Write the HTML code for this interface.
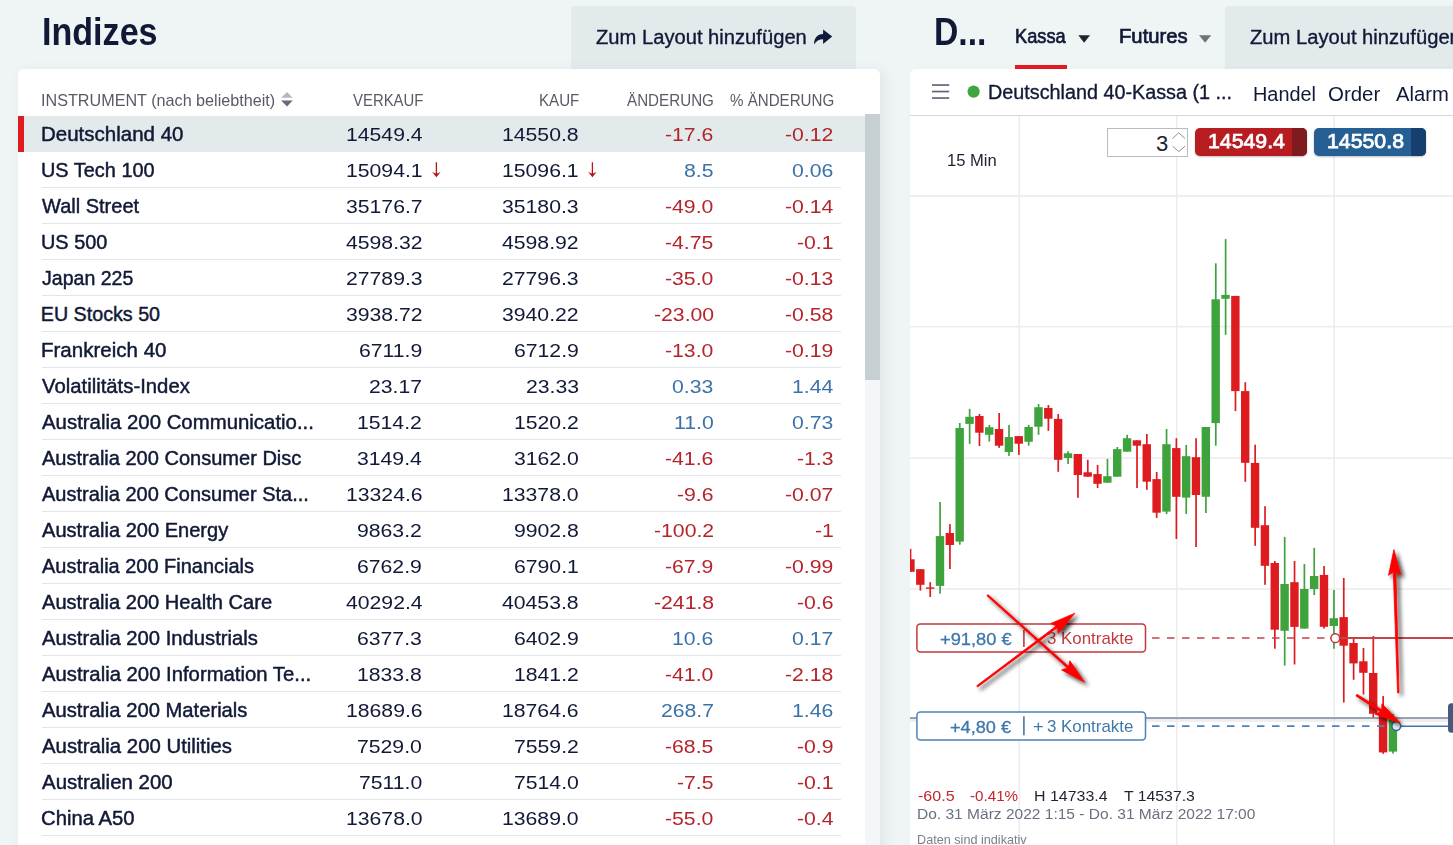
<!DOCTYPE html>
<html lang="de">
<head>
<meta charset="utf-8">
<title>Indizes</title>
<style>
html,body{margin:0;padding:0;width:1453px;height:845px;overflow:hidden;}
body{background:#eff4f5;font-family:"Liberation Sans",sans-serif;}
#root{position:absolute;left:0;top:0;width:1453px;height:845px;overflow:hidden;background:#eff4f5;}
.t{position:absolute;white-space:nowrap;line-height:1;transform-origin:0 0;}
.abs{position:absolute;}
.panel{position:absolute;background:#fff;box-shadow:0 0 14px 2px rgba(200,214,220,0.55);}
#lp{left:18px;top:69px;width:862px;height:790px;border-radius:6px 6px 0 0;box-shadow:4px 3px 12px 0 rgba(200,214,220,0.45);}
#rp{left:910px;top:69px;width:560px;height:790px;border-radius:6px 0 0 0;box-shadow:8px 4px 10px rgba(200,214,220,0.3);}
.btn{position:absolute;background:#e2eaeb;border-radius:4px 4px 0 0;}
.rl{position:absolute;left:42px;width:799px;height:1px;background:#dfe7e8;}
</style>
</head>
<body>
<div id="root">
<!-- top buttons -->
<div class="btn" style="left:571px;top:6px;width:285px;height:64px;"></div>
<div class="btn" style="left:1225px;top:6px;width:240px;height:64px;"></div>

<!-- panels -->
<div class="panel" id="lp"></div>
<div class="panel" id="rp"></div>

<!-- Kassa underline -->
<div class="abs" style="left:1015px;top:65px;width:52px;height:4px;background:#e01b22;"></div>

<!-- selected row -->
<div class="abs" style="left:18px;top:116px;width:847px;height:36px;background:#e2eaeb;"></div>
<div class="abs" style="left:18px;top:116px;width:6px;height:36px;background:#e01b1f;"></div>
<!-- scrollbar -->
<div class="abs" style="left:865px;top:114px;width:15px;height:731px;background:#f4f7f7;"></div>
<div class="abs" style="left:865px;top:114px;width:15px;height:266px;background:#c6d0d2;"></div>

<div class="rl" style="top:187px"></div>
<div class="rl" style="top:223px"></div>
<div class="rl" style="top:259px"></div>
<div class="rl" style="top:295px"></div>
<div class="rl" style="top:331px"></div>
<div class="rl" style="top:367px"></div>
<div class="rl" style="top:403px"></div>
<div class="rl" style="top:439px"></div>
<div class="rl" style="top:475px"></div>
<div class="rl" style="top:511px"></div>
<div class="rl" style="top:547px"></div>
<div class="rl" style="top:583px"></div>
<div class="rl" style="top:619px"></div>
<div class="rl" style="top:655px"></div>
<div class="rl" style="top:691px"></div>
<div class="rl" style="top:727px"></div>
<div class="rl" style="top:763px"></div>
<div class="rl" style="top:799px"></div>
<div class="rl" style="top:835px"></div>

<!-- right panel header border -->
<div class="abs" style="left:910px;top:115px;width:543px;height:1px;background:#d3d9dd;"></div>

<!-- chart svg -->
<svg class="abs" style="left:0;top:0;" width="1453" height="845" viewBox="0 0 1453 845">
<defs>
<clipPath id="cc"><rect x="910" y="116" width="543" height="729"/></clipPath>
<filter id="sh" x="-20%" y="-20%" width="150%" height="150%">
<feGaussianBlur in="SourceAlpha" stdDeviation="1.6" result="b"/>
<feOffset in="b" dx="2.5" dy="2.5" result="o"/>
<feComponentTransfer in="o" result="o2"><feFuncA type="linear" slope="0.75"/></feComponentTransfer>
<feMerge><feMergeNode in="o2"/><feMergeNode in="SourceGraphic"/></feMerge>
</filter>
</defs>
<g clip-path="url(#cc)">
<!-- grid -->
<g fill="#ececee">
<rect x="1018.5" y="116" width="1.5" height="729"/>
<rect x="1176" y="116" width="1.5" height="729"/>
<rect x="1333.5" y="116" width="1.5" height="729"/>
<rect x="910" y="195.3" width="543" height="1.6"/>
<rect x="910" y="325.8" width="543" height="1.6"/>
<rect x="910" y="457.4" width="543" height="1.6"/>
<rect x="910" y="588.2" width="543" height="1.6"/>
<rect x="910" y="720.2" width="543" height="1.6"/>
</g>
<!-- current price line -->
<rect x="910" y="717" width="538" height="2.2" fill="#98a1b4"/>
<!-- candles -->
<rect x="909.70" y="548.9" width="1.7" height="22.9" fill="#de1b1f"/>
<rect x="906.25" y="559.3" width="8.4" height="12.5" fill="#de1b1f"/>
<rect x="919.55" y="569.2" width="1.7" height="21.4" fill="#de1b1f"/>
<rect x="916.10" y="569.2" width="8.4" height="15.6" fill="#de1b1f"/>
<rect x="929.39" y="582.2" width="1.7" height="14.8" fill="#de1b1f"/>
<rect x="925.94" y="587.4" width="8.4" height="1.4" fill="#de1b1f"/>
<rect x="939.24" y="502.0" width="1.7" height="91.7" fill="#3fa33d"/>
<rect x="935.79" y="536.1" width="8.4" height="49.8" fill="#3fa33d"/>
<rect x="949.08" y="524.1" width="1.7" height="44.9" fill="#de1b1f"/>
<rect x="945.63" y="533.0" width="8.4" height="12.0" fill="#de1b1f"/>
<rect x="958.93" y="423.0" width="1.7" height="121.7" fill="#3fa33d"/>
<rect x="955.48" y="428.0" width="8.4" height="113.6" fill="#3fa33d"/>
<rect x="968.78" y="408.8" width="1.7" height="35.1" fill="#3fa33d"/>
<rect x="965.33" y="416.8" width="8.4" height="7.1" fill="#3fa33d"/>
<rect x="978.62" y="414.0" width="1.7" height="32.0" fill="#de1b1f"/>
<rect x="975.17" y="416.0" width="8.4" height="16.7" fill="#de1b1f"/>
<rect x="988.47" y="424.9" width="1.7" height="16.7" fill="#3fa33d"/>
<rect x="985.02" y="427.2" width="8.4" height="7.6" fill="#3fa33d"/>
<rect x="998.31" y="413.0" width="1.7" height="34.8" fill="#de1b1f"/>
<rect x="994.86" y="429.0" width="8.4" height="16.7" fill="#de1b1f"/>
<rect x="1008.16" y="424.9" width="1.7" height="31.0" fill="#3fa33d"/>
<rect x="1004.71" y="437.1" width="8.4" height="14.9" fill="#3fa33d"/>
<rect x="1018.01" y="436.1" width="1.7" height="18.8" fill="#de1b1f"/>
<rect x="1014.56" y="436.1" width="8.4" height="7.6" fill="#de1b1f"/>
<rect x="1027.85" y="424.9" width="1.7" height="20.8" fill="#3fa33d"/>
<rect x="1024.40" y="427.0" width="8.4" height="14.8" fill="#3fa33d"/>
<rect x="1037.70" y="404.0" width="1.7" height="30.8" fill="#3fa33d"/>
<rect x="1034.25" y="407.2" width="8.4" height="19.5" fill="#3fa33d"/>
<rect x="1047.54" y="405.0" width="1.7" height="25.9" fill="#de1b1f"/>
<rect x="1044.09" y="408.0" width="8.4" height="10.7" fill="#de1b1f"/>
<rect x="1057.39" y="414.0" width="1.7" height="57.8" fill="#de1b1f"/>
<rect x="1053.94" y="418.9" width="8.4" height="40.9" fill="#de1b1f"/>
<rect x="1067.24" y="451.2" width="1.7" height="12.8" fill="#3fa33d"/>
<rect x="1063.79" y="453.3" width="8.4" height="4.7" fill="#3fa33d"/>
<rect x="1077.08" y="454.0" width="1.7" height="43.8" fill="#de1b1f"/>
<rect x="1073.63" y="454.0" width="8.4" height="21.0" fill="#de1b1f"/>
<rect x="1086.93" y="459.8" width="1.7" height="16.9" fill="#de1b1f"/>
<rect x="1083.48" y="472.3" width="8.4" height="4.4" fill="#de1b1f"/>
<rect x="1096.77" y="465.0" width="1.7" height="23.0" fill="#de1b1f"/>
<rect x="1093.32" y="474.1" width="8.4" height="9.7" fill="#de1b1f"/>
<rect x="1106.62" y="459.0" width="1.7" height="23.7" fill="#3fa33d"/>
<rect x="1103.17" y="476.2" width="8.4" height="6.5" fill="#3fa33d"/>
<rect x="1116.47" y="447.0" width="1.7" height="29.7" fill="#3fa33d"/>
<rect x="1113.02" y="449.1" width="8.4" height="27.6" fill="#3fa33d"/>
<rect x="1126.31" y="434.8" width="1.7" height="16.9" fill="#3fa33d"/>
<rect x="1122.86" y="438.2" width="8.4" height="13.5" fill="#3fa33d"/>
<rect x="1136.16" y="440.3" width="1.7" height="47.7" fill="#de1b1f"/>
<rect x="1132.71" y="440.3" width="8.4" height="5.4" fill="#de1b1f"/>
<rect x="1146.00" y="434.0" width="1.7" height="55.8" fill="#de1b1f"/>
<rect x="1142.55" y="444.2" width="8.4" height="37.5" fill="#de1b1f"/>
<rect x="1155.85" y="472.0" width="1.7" height="45.9" fill="#de1b1f"/>
<rect x="1152.40" y="479.1" width="8.4" height="33.6" fill="#de1b1f"/>
<rect x="1165.70" y="429.0" width="1.7" height="85.0" fill="#3fa33d"/>
<rect x="1162.25" y="444.2" width="8.4" height="67.4" fill="#3fa33d"/>
<rect x="1175.54" y="438.2" width="1.7" height="100.8" fill="#de1b1f"/>
<rect x="1172.09" y="448.1" width="8.4" height="48.7" fill="#de1b1f"/>
<rect x="1185.39" y="445.0" width="1.7" height="69.0" fill="#3fa33d"/>
<rect x="1181.94" y="456.2" width="8.4" height="41.4" fill="#3fa33d"/>
<rect x="1195.23" y="438.2" width="1.7" height="108.8" fill="#de1b1f"/>
<rect x="1191.78" y="457.2" width="8.4" height="37.8" fill="#de1b1f"/>
<rect x="1205.08" y="427.0" width="1.7" height="86.0" fill="#3fa33d"/>
<rect x="1201.63" y="427.0" width="8.4" height="69.8" fill="#3fa33d"/>
<rect x="1214.93" y="263.3" width="1.7" height="182.4" fill="#3fa33d"/>
<rect x="1211.48" y="299.3" width="8.4" height="123.8" fill="#3fa33d"/>
<rect x="1224.77" y="239.1" width="1.7" height="95.7" fill="#3fa33d"/>
<rect x="1221.32" y="294.9" width="8.4" height="3.9" fill="#3fa33d"/>
<rect x="1234.62" y="295.9" width="1.7" height="115.2" fill="#de1b1f"/>
<rect x="1231.17" y="295.9" width="8.4" height="95.2" fill="#de1b1f"/>
<rect x="1244.46" y="382.2" width="1.7" height="99.6" fill="#de1b1f"/>
<rect x="1241.01" y="391.1" width="8.4" height="71.7" fill="#de1b1f"/>
<rect x="1254.31" y="444.7" width="1.7" height="101.1" fill="#de1b1f"/>
<rect x="1250.86" y="462.9" width="8.4" height="64.9" fill="#de1b1f"/>
<rect x="1264.16" y="506.2" width="1.7" height="78.6" fill="#de1b1f"/>
<rect x="1260.71" y="525.2" width="8.4" height="40.6" fill="#de1b1f"/>
<rect x="1274.00" y="561.0" width="1.7" height="87.7" fill="#de1b1f"/>
<rect x="1270.55" y="563.0" width="8.4" height="66.7" fill="#de1b1f"/>
<rect x="1283.85" y="536.9" width="1.7" height="128.7" fill="#3fa33d"/>
<rect x="1280.40" y="584.0" width="8.4" height="46.8" fill="#3fa33d"/>
<rect x="1293.69" y="561.0" width="1.7" height="103.5" fill="#de1b1f"/>
<rect x="1290.24" y="582.2" width="8.4" height="44.7" fill="#de1b1f"/>
<rect x="1303.54" y="564.0" width="1.7" height="64.6" fill="#3fa33d"/>
<rect x="1300.09" y="589.0" width="8.4" height="39.6" fill="#3fa33d"/>
<rect x="1313.39" y="547.8" width="1.7" height="47.2" fill="#3fa33d"/>
<rect x="1309.94" y="576.0" width="8.4" height="13.0" fill="#3fa33d"/>
<rect x="1323.23" y="566.0" width="1.7" height="62.5" fill="#de1b1f"/>
<rect x="1319.78" y="574.9" width="8.4" height="51.9" fill="#de1b1f"/>
<rect x="1333.08" y="590.0" width="1.7" height="58.7" fill="#3fa33d"/>
<rect x="1329.63" y="618.2" width="8.4" height="7.8" fill="#3fa33d"/>
<rect x="1342.92" y="578.0" width="1.7" height="124.6" fill="#de1b1f"/>
<rect x="1339.47" y="617.1" width="8.4" height="28.6" fill="#de1b1f"/>
<rect x="1352.77" y="637.4" width="1.7" height="42.4" fill="#de1b1f"/>
<rect x="1349.32" y="643.0" width="8.4" height="20.4" fill="#de1b1f"/>
<rect x="1362.62" y="648.0" width="1.7" height="46.5" fill="#de1b1f"/>
<rect x="1359.17" y="661.3" width="8.4" height="11.5" fill="#de1b1f"/>
<rect x="1372.46" y="636.0" width="1.7" height="81.6" fill="#de1b1f"/>
<rect x="1369.01" y="673.0" width="8.4" height="40.8" fill="#de1b1f"/>
<rect x="1382.31" y="696.1" width="1.7" height="57.7" fill="#de1b1f"/>
<rect x="1378.86" y="714.0" width="8.4" height="38.4" fill="#de1b1f"/>
<rect x="1392.15" y="714.0" width="1.7" height="39.6" fill="#3fa33d"/>
<rect x="1388.70" y="719.5" width="8.4" height="32.1" fill="#3fa33d"/>
<!-- position lines -->
<line x1="1152" y1="638" x2="1331" y2="638" stroke="#c5444a" stroke-width="1.7" stroke-dasharray="7.5 7.5"/>
<line x1="1339.5" y1="638" x2="1453" y2="638" stroke="#c5444a" stroke-width="2"/>
<circle cx="1335.3" cy="638.2" r="4.4" fill="#fff" stroke="#b8383e" stroke-width="1.5"/>
<line x1="1152" y1="726.2" x2="1392" y2="726.2" stroke="#4a83b9" stroke-width="1.8" stroke-dasharray="7.5 7.5"/>
<line x1="1401" y1="726.2" x2="1449" y2="726.2" stroke="#3f78ab" stroke-width="1.6"/>
<!-- tag -->
<rect x="1448" y="703.2" width="12" height="29.6" rx="3.5" fill="#485a7c"/>
<!-- boxes -->
<rect x="916.9" y="623.9" width="228.6" height="28.2" rx="3.5" fill="#fff" stroke="#c4373d" stroke-width="1.5"/>
<rect x="1023.1" y="630" width="1.6" height="17" fill="#c4373d"/>
<rect x="916.9" y="711.9" width="228.6" height="28.2" rx="3.5" fill="#fff" stroke="#4a83b9" stroke-width="1.5"/>
<rect x="1023.1" y="716.3" width="1.6" height="19" fill="#3f78ab"/>
</g>
</svg>

<svg class="abs" style="left:0;top:0;" width="1453" height="845" viewBox="0 0 1453 845">
<!-- qty input -->
<rect x="1107.5" y="128.5" width="80" height="28" fill="#fff" stroke="#b7bcbf" stroke-width="1"/>
<g stroke="#8a8f94" stroke-width="1" fill="none">
<path d="M1172.5 138.5 L1178.8 132.8 L1185 138.5"/>
<path d="M1172.5 146.2 L1178.8 151.6 L1185 146.2"/>
</g>
</svg>
<!-- price buttons -->
<div class="abs" style="left:1195px;top:128px;width:112px;height:28px;border-radius:5px;background:#b71c21;overflow:hidden;box-shadow:0 1px 2px rgba(0,0,0,0.25);"><div class="abs" style="right:0;top:0;width:15.5px;height:28px;background:#7f1a1e;"></div></div>
<div class="abs" style="left:1314px;top:128px;width:112px;height:28px;border-radius:5px;background:#255f94;overflow:hidden;box-shadow:0 1px 2px rgba(0,0,0,0.25);"><div class="abs" style="right:0;top:0;width:15.5px;height:28px;background:#143f6e;"></div></div>

<span class="t" style="left:41.65px;top:11.75px;font-size:39px;color:#111936;font-weight:bold;transform:scaleX(0.8741);">Indizes</span>
<span class="t" style="left:595.70px;top:28.04px;font-size:19.6px;color:#111936;transform:scaleX(1.0295);-webkit-text-stroke:0.35px #111936;">Zum Layout hinzufügen</span>
<span class="t" style="left:41.03px;top:92.79px;font-size:16.6px;color:#585b66;transform:scaleX(0.9743);">INSTRUMENT (nach beliebtheit)</span>
<span class="t" style="left:353.00px;top:92.79px;font-size:16.6px;color:#585b66;transform:scaleX(0.8985);">VERKAUF</span>
<span class="t" style="left:538.89px;top:92.79px;font-size:16.6px;color:#585b66;transform:scaleX(0.9114);">KAUF</span>
<span class="t" style="left:627.10px;top:92.79px;font-size:16.6px;color:#585b66;transform:scaleX(0.9154);">ÄNDERUNG</span>
<span class="t" style="left:729.60px;top:92.79px;font-size:16.6px;color:#585b66;transform:scaleX(0.9117);">% ÄNDERUNG</span>
<span class="t" style="left:40.76px;top:125.25px;font-size:19.7px;color:#111936;transform:scaleX(1.0415);-webkit-text-stroke:0.45px #111936;">Deutschland 40</span>
<span class="t" style="left:345.67px;top:126.02px;font-size:18.8px;color:#111936;transform:scaleX(1.1288);">14549.4</span>
<span class="t" style="left:502.17px;top:126.02px;font-size:18.8px;color:#111936;transform:scaleX(1.1288);">14550.8</span>
<span class="t" style="left:665.38px;top:126.02px;font-size:18.8px;color:#b5242b;transform:scaleX(1.1288);">-17.6</span>
<span class="t" style="left:785.18px;top:126.02px;font-size:18.8px;color:#b5242b;transform:scaleX(1.1288);">-0.12</span>
<span class="t" style="left:40.79px;top:161.25px;font-size:19.7px;color:#111936;transform:scaleX(1.0110);-webkit-text-stroke:0.45px #111936;">US Tech 100</span>
<span class="t" style="left:345.67px;top:162.02px;font-size:18.8px;color:#111936;transform:scaleX(1.1288);">15094.1</span>
<span class="t" style="left:502.17px;top:162.02px;font-size:18.8px;color:#111936;transform:scaleX(1.1288);">15096.1</span>
<span class="t" style="left:684.23px;top:162.02px;font-size:18.8px;color:#3b72a8;transform:scaleX(1.1288);">8.5</span>
<span class="t" style="left:792.24px;top:162.02px;font-size:18.8px;color:#3b72a8;transform:scaleX(1.1288);">0.06</span>
<span class="t" style="left:41.80px;top:197.25px;font-size:19.7px;color:#111936;transform:scaleX(1.0159);-webkit-text-stroke:0.45px #111936;">Wall Street</span>
<span class="t" style="left:345.67px;top:198.02px;font-size:18.8px;color:#111936;transform:scaleX(1.1288);">35176.7</span>
<span class="t" style="left:502.17px;top:198.02px;font-size:18.8px;color:#111936;transform:scaleX(1.1288);">35180.3</span>
<span class="t" style="left:665.38px;top:198.02px;font-size:18.8px;color:#b5242b;transform:scaleX(1.1288);">-49.0</span>
<span class="t" style="left:785.18px;top:198.02px;font-size:18.8px;color:#b5242b;transform:scaleX(1.1288);">-0.14</span>
<span class="t" style="left:40.79px;top:233.25px;font-size:19.7px;color:#111936;transform:scaleX(1.0105);-webkit-text-stroke:0.45px #111936;">US 500</span>
<span class="t" style="left:345.67px;top:234.02px;font-size:18.8px;color:#111936;transform:scaleX(1.1288);">4598.32</span>
<span class="t" style="left:502.17px;top:234.02px;font-size:18.8px;color:#111936;transform:scaleX(1.1288);">4598.92</span>
<span class="t" style="left:665.38px;top:234.02px;font-size:18.8px;color:#b5242b;transform:scaleX(1.1288);">-4.75</span>
<span class="t" style="left:796.97px;top:234.02px;font-size:18.8px;color:#b5242b;transform:scaleX(1.1288);">-0.1</span>
<span class="t" style="left:41.80px;top:269.25px;font-size:19.7px;color:#111936;transform:scaleX(0.9934);-webkit-text-stroke:0.45px #111936;">Japan 225</span>
<span class="t" style="left:345.67px;top:270.02px;font-size:18.8px;color:#111936;transform:scaleX(1.1288);">27789.3</span>
<span class="t" style="left:502.17px;top:270.02px;font-size:18.8px;color:#111936;transform:scaleX(1.1288);">27796.3</span>
<span class="t" style="left:665.38px;top:270.02px;font-size:18.8px;color:#b5242b;transform:scaleX(1.1288);">-35.0</span>
<span class="t" style="left:785.18px;top:270.02px;font-size:18.8px;color:#b5242b;transform:scaleX(1.1288);">-0.13</span>
<span class="t" style="left:40.80px;top:305.25px;font-size:19.7px;color:#111936;-webkit-text-stroke:0.45px #111936;">EU Stocks 50</span>
<span class="t" style="left:345.67px;top:306.02px;font-size:18.8px;color:#111936;transform:scaleX(1.1288);">3938.72</span>
<span class="t" style="left:502.17px;top:306.02px;font-size:18.8px;color:#111936;transform:scaleX(1.1288);">3940.22</span>
<span class="t" style="left:653.59px;top:306.02px;font-size:18.8px;color:#b5242b;transform:scaleX(1.1288);">-23.00</span>
<span class="t" style="left:785.18px;top:306.02px;font-size:18.8px;color:#b5242b;transform:scaleX(1.1288);">-0.58</span>
<span class="t" style="left:40.76px;top:341.25px;font-size:19.7px;color:#111936;transform:scaleX(1.0426);-webkit-text-stroke:0.45px #111936;">Frankreich 40</span>
<span class="t" style="left:359.04px;top:342.02px;font-size:18.8px;color:#111936;transform:scaleX(1.1288);">6711.9</span>
<span class="t" style="left:513.96px;top:342.02px;font-size:18.8px;color:#111936;transform:scaleX(1.1288);">6712.9</span>
<span class="t" style="left:665.38px;top:342.02px;font-size:18.8px;color:#b5242b;transform:scaleX(1.1288);">-13.0</span>
<span class="t" style="left:785.18px;top:342.02px;font-size:18.8px;color:#b5242b;transform:scaleX(1.1288);">-0.19</span>
<span class="t" style="left:41.80px;top:377.25px;font-size:19.7px;color:#111936;transform:scaleX(1.0313);-webkit-text-stroke:0.45px #111936;">Volatilitäts-Index</span>
<span class="t" style="left:369.25px;top:378.02px;font-size:18.8px;color:#111936;transform:scaleX(1.1288);">23.17</span>
<span class="t" style="left:525.75px;top:378.02px;font-size:18.8px;color:#111936;transform:scaleX(1.1288);">23.33</span>
<span class="t" style="left:672.44px;top:378.02px;font-size:18.8px;color:#3b72a8;transform:scaleX(1.1288);">0.33</span>
<span class="t" style="left:792.24px;top:378.02px;font-size:18.8px;color:#3b72a8;transform:scaleX(1.1288);">1.44</span>
<span class="t" style="left:41.80px;top:413.25px;font-size:19.7px;color:#111936;transform:scaleX(1.0354);-webkit-text-stroke:0.45px #111936;">Australia 200 Communicatio...</span>
<span class="t" style="left:357.46px;top:414.02px;font-size:18.8px;color:#111936;transform:scaleX(1.1288);">1514.2</span>
<span class="t" style="left:513.96px;top:414.02px;font-size:18.8px;color:#111936;transform:scaleX(1.1288);">1520.2</span>
<span class="t" style="left:674.02px;top:414.02px;font-size:18.8px;color:#3b72a8;transform:scaleX(1.1288);">11.0</span>
<span class="t" style="left:792.24px;top:414.02px;font-size:18.8px;color:#3b72a8;transform:scaleX(1.1288);">0.73</span>
<span class="t" style="left:41.80px;top:449.25px;font-size:19.7px;color:#111936;transform:scaleX(1.0172);-webkit-text-stroke:0.45px #111936;">Australia 200 Consumer Disc</span>
<span class="t" style="left:357.46px;top:450.02px;font-size:18.8px;color:#111936;transform:scaleX(1.1288);">3149.4</span>
<span class="t" style="left:513.96px;top:450.02px;font-size:18.8px;color:#111936;transform:scaleX(1.1288);">3162.0</span>
<span class="t" style="left:665.38px;top:450.02px;font-size:18.8px;color:#b5242b;transform:scaleX(1.1288);">-41.6</span>
<span class="t" style="left:796.97px;top:450.02px;font-size:18.8px;color:#b5242b;transform:scaleX(1.1288);">-1.3</span>
<span class="t" style="left:41.80px;top:485.25px;font-size:19.7px;color:#111936;transform:scaleX(1.0162);-webkit-text-stroke:0.45px #111936;">Australia 200 Consumer Sta...</span>
<span class="t" style="left:345.67px;top:486.02px;font-size:18.8px;color:#111936;transform:scaleX(1.1288);">13324.6</span>
<span class="t" style="left:502.17px;top:486.02px;font-size:18.8px;color:#111936;transform:scaleX(1.1288);">13378.0</span>
<span class="t" style="left:677.17px;top:486.02px;font-size:18.8px;color:#b5242b;transform:scaleX(1.1288);">-9.6</span>
<span class="t" style="left:785.18px;top:486.02px;font-size:18.8px;color:#b5242b;transform:scaleX(1.1288);">-0.07</span>
<span class="t" style="left:41.80px;top:521.25px;font-size:19.7px;color:#111936;transform:scaleX(1.0190);-webkit-text-stroke:0.45px #111936;">Australia 200 Energy</span>
<span class="t" style="left:357.46px;top:522.02px;font-size:18.8px;color:#111936;transform:scaleX(1.1288);">9863.2</span>
<span class="t" style="left:513.96px;top:522.02px;font-size:18.8px;color:#111936;transform:scaleX(1.1288);">9902.8</span>
<span class="t" style="left:653.59px;top:522.02px;font-size:18.8px;color:#b5242b;transform:scaleX(1.1288);">-100.2</span>
<span class="t" style="left:814.65px;top:522.02px;font-size:18.8px;color:#b5242b;transform:scaleX(1.1288);">-1</span>
<span class="t" style="left:41.80px;top:557.25px;font-size:19.7px;color:#111936;transform:scaleX(1.0140);-webkit-text-stroke:0.45px #111936;">Australia 200 Financials</span>
<span class="t" style="left:357.46px;top:558.02px;font-size:18.8px;color:#111936;transform:scaleX(1.1288);">6762.9</span>
<span class="t" style="left:513.96px;top:558.02px;font-size:18.8px;color:#111936;transform:scaleX(1.1288);">6790.1</span>
<span class="t" style="left:665.38px;top:558.02px;font-size:18.8px;color:#b5242b;transform:scaleX(1.1288);">-67.9</span>
<span class="t" style="left:785.18px;top:558.02px;font-size:18.8px;color:#b5242b;transform:scaleX(1.1288);">-0.99</span>
<span class="t" style="left:41.80px;top:593.25px;font-size:19.7px;color:#111936;transform:scaleX(1.0205);-webkit-text-stroke:0.45px #111936;">Australia 200 Health Care</span>
<span class="t" style="left:345.67px;top:594.02px;font-size:18.8px;color:#111936;transform:scaleX(1.1288);">40292.4</span>
<span class="t" style="left:502.17px;top:594.02px;font-size:18.8px;color:#111936;transform:scaleX(1.1288);">40453.8</span>
<span class="t" style="left:653.59px;top:594.02px;font-size:18.8px;color:#b5242b;transform:scaleX(1.1288);">-241.8</span>
<span class="t" style="left:796.97px;top:594.02px;font-size:18.8px;color:#b5242b;transform:scaleX(1.1288);">-0.6</span>
<span class="t" style="left:41.80px;top:629.25px;font-size:19.7px;color:#111936;transform:scaleX(1.0273);-webkit-text-stroke:0.45px #111936;">Australia 200 Industrials</span>
<span class="t" style="left:357.46px;top:630.02px;font-size:18.8px;color:#111936;transform:scaleX(1.1288);">6377.3</span>
<span class="t" style="left:513.96px;top:630.02px;font-size:18.8px;color:#111936;transform:scaleX(1.1288);">6402.9</span>
<span class="t" style="left:672.44px;top:630.02px;font-size:18.8px;color:#3b72a8;transform:scaleX(1.1288);">10.6</span>
<span class="t" style="left:792.24px;top:630.02px;font-size:18.8px;color:#3b72a8;transform:scaleX(1.1288);">0.17</span>
<span class="t" style="left:41.80px;top:665.25px;font-size:19.7px;color:#111936;transform:scaleX(1.0305);-webkit-text-stroke:0.45px #111936;">Australia 200 Information Te...</span>
<span class="t" style="left:357.46px;top:666.02px;font-size:18.8px;color:#111936;transform:scaleX(1.1288);">1833.8</span>
<span class="t" style="left:513.96px;top:666.02px;font-size:18.8px;color:#111936;transform:scaleX(1.1288);">1841.2</span>
<span class="t" style="left:665.38px;top:666.02px;font-size:18.8px;color:#b5242b;transform:scaleX(1.1288);">-41.0</span>
<span class="t" style="left:785.18px;top:666.02px;font-size:18.8px;color:#b5242b;transform:scaleX(1.1288);">-2.18</span>
<span class="t" style="left:41.80px;top:701.25px;font-size:19.7px;color:#111936;transform:scaleX(1.0259);-webkit-text-stroke:0.45px #111936;">Australia 200 Materials</span>
<span class="t" style="left:345.67px;top:702.02px;font-size:18.8px;color:#111936;transform:scaleX(1.1288);">18689.6</span>
<span class="t" style="left:502.17px;top:702.02px;font-size:18.8px;color:#111936;transform:scaleX(1.1288);">18764.6</span>
<span class="t" style="left:660.65px;top:702.02px;font-size:18.8px;color:#3b72a8;transform:scaleX(1.1288);">268.7</span>
<span class="t" style="left:792.24px;top:702.02px;font-size:18.8px;color:#3b72a8;transform:scaleX(1.1288);">1.46</span>
<span class="t" style="left:41.80px;top:737.25px;font-size:19.7px;color:#111936;transform:scaleX(1.0338);-webkit-text-stroke:0.45px #111936;">Australia 200 Utilities</span>
<span class="t" style="left:357.46px;top:738.02px;font-size:18.8px;color:#111936;transform:scaleX(1.1288);">7529.0</span>
<span class="t" style="left:513.96px;top:738.02px;font-size:18.8px;color:#111936;transform:scaleX(1.1288);">7559.2</span>
<span class="t" style="left:665.38px;top:738.02px;font-size:18.8px;color:#b5242b;transform:scaleX(1.1288);">-68.5</span>
<span class="t" style="left:796.97px;top:738.02px;font-size:18.8px;color:#b5242b;transform:scaleX(1.1288);">-0.9</span>
<span class="t" style="left:41.80px;top:773.25px;font-size:19.7px;color:#111936;transform:scaleX(1.0380);-webkit-text-stroke:0.45px #111936;">Australien 200</span>
<span class="t" style="left:359.04px;top:774.02px;font-size:18.8px;color:#111936;transform:scaleX(1.1288);">7511.0</span>
<span class="t" style="left:513.96px;top:774.02px;font-size:18.8px;color:#111936;transform:scaleX(1.1288);">7514.0</span>
<span class="t" style="left:677.17px;top:774.02px;font-size:18.8px;color:#b5242b;transform:scaleX(1.1288);">-7.5</span>
<span class="t" style="left:796.97px;top:774.02px;font-size:18.8px;color:#b5242b;transform:scaleX(1.1288);">-0.1</span>
<span class="t" style="left:40.77px;top:809.25px;font-size:19.7px;color:#111936;transform:scaleX(1.0298);-webkit-text-stroke:0.45px #111936;">China A50</span>
<span class="t" style="left:345.67px;top:810.02px;font-size:18.8px;color:#111936;transform:scaleX(1.1288);">13678.0</span>
<span class="t" style="left:502.17px;top:810.02px;font-size:18.8px;color:#111936;transform:scaleX(1.1288);">13689.0</span>
<span class="t" style="left:665.38px;top:810.02px;font-size:18.8px;color:#b5242b;transform:scaleX(1.1288);">-55.0</span>
<span class="t" style="left:796.97px;top:810.02px;font-size:18.8px;color:#b5242b;transform:scaleX(1.1288);">-0.4</span>
<span class="t" style="left:933.87px;top:11.75px;font-size:39px;color:#111936;font-weight:bold;transform:scaleX(0.8639);">D...</span>
<span class="t" style="left:1014.91px;top:26.47px;font-size:20.5px;color:#111936;transform:scaleX(0.8891);-webkit-text-stroke:0.7px #111936;">Kassa</span>
<span class="t" style="left:1119.01px;top:26.47px;font-size:20.5px;color:#111936;transform:scaleX(0.9876);-webkit-text-stroke:0.7px #111936;">Futures</span>
<span class="t" style="left:1249.70px;top:28.04px;font-size:19.6px;color:#111936;transform:scaleX(1.0295);-webkit-text-stroke:0.35px #111936;">Zum Layout hinzufügen</span>
<span class="t" style="left:987.51px;top:81.80px;font-size:20px;color:#111936;transform:scaleX(0.9888);-webkit-text-stroke:0.35px #111936;">Deutschland 40-Kassa (1 ...</span>
<span class="t" style="left:1253.41px;top:83.50px;font-size:20px;color:#111936;transform:scaleX(0.9946);">Handel</span>
<span class="t" style="left:1327.80px;top:83.50px;font-size:20px;color:#111936;transform:scaleX(1.0221);">Order</span>
<span class="t" style="left:1395.50px;top:83.50px;font-size:20px;color:#111936;transform:scaleX(1.0103);">Alarm</span>
<span class="t" style="left:946.99px;top:152.28px;font-size:16.5px;color:#1d2230;transform:scaleX(1.0052);">15 Min</span>
<span class="t" style="left:1156.00px;top:133.20px;font-size:22px;color:#1d2230;">3</span>
<span class="t" style="left:1207.71px;top:132.24px;font-size:19.6px;color:#fff;transform:scaleX(1.0854);-webkit-text-stroke:0.75px #fff;">14549.4</span>
<span class="t" style="left:1326.91px;top:132.24px;font-size:19.6px;color:#fff;transform:scaleX(1.0868);-webkit-text-stroke:0.75px #fff;">14550.8</span>
<span class="t" style="left:939.70px;top:631.60px;font-size:16px;color:#3f78ab;transform:scaleX(1.1428);-webkit-text-stroke:0.3px #3f78ab;">+91,80 €</span>
<span class="t" style="left:1047.20px;top:631.19px;font-size:16.6px;color:#c23a41;transform:scaleX(1.0173);">3 Kontrakte</span>
<span class="t" style="left:1033.50px;top:631.19px;font-size:16.6px;color:#c23a41;transform:scaleX(1.1000);">-</span>
<span class="t" style="left:950.40px;top:719.60px;font-size:16px;color:#3f78ab;transform:scaleX(1.1330);-webkit-text-stroke:0.3px #3f78ab;">+4,80 €</span>
<span class="t" style="left:1047.20px;top:719.19px;font-size:16.6px;color:#3f78ab;transform:scaleX(1.0173);">3 Kontrakte</span>
<span class="t" style="left:1032.80px;top:719.19px;font-size:16.6px;color:#3f78ab;transform:scaleX(1.1000);">+</span>
<span class="t" style="left:918.00px;top:788.54px;font-size:14.3px;color:#c1272d;transform:scaleX(1.1245);">-60.5</span>
<span class="t" style="left:970.40px;top:788.54px;font-size:14.3px;color:#c1272d;transform:scaleX(1.0617);">-0.41%</span>
<span class="t" style="left:1034.09px;top:788.54px;font-size:14.3px;color:#1d2230;transform:scaleX(1.1150);">H 14733.4</span>
<span class="t" style="left:1124.10px;top:788.54px;font-size:14.3px;color:#1d2230;transform:scaleX(1.1050);">T 14537.3</span>
<span class="t" style="left:916.98px;top:806.08px;font-size:15.2px;color:#6a7080;transform:scaleX(1.0225);">Do. 31 März 2022 1:15 - Do. 31 März 2022 17:00</span>
<span class="t" style="left:917.04px;top:832.58px;font-size:13.2px;color:#7a808c;transform:scaleX(0.9590);">Daten sind indikativ</span>

<!-- overlay svg: arrows + circle on top -->
<svg class="abs" style="left:0;top:0;" width="1453" height="845" viewBox="0 0 1453 845">
<defs>
<filter id="sh2" x="-20%" y="-20%" width="150%" height="150%">
<feGaussianBlur in="SourceAlpha" stdDeviation="1.9" result="b"/>
<feOffset in="b" dx="2.6" dy="2.8" result="o"/>
<feComponentTransfer in="o" result="o2"><feFuncA type="linear" slope="0.75"/></feComponentTransfer>
<feMerge><feMergeNode in="o2"/><feMergeNode in="SourceGraphic"/></feMerge>
</filter>
</defs>
<circle cx="1396.3" cy="726.1" r="4.4" fill="#e9ebea" stroke="#2f6aa0" stroke-width="1.5"/>
<g filter="url(#sh2)">
<path d="M977.7 687.0 L1057.5 627.5 L1058.2 633.5 L1074.9 613.2 L1050.8 623.5 L1056.3 625.9 L976.7 685.8Z" fill="#ff0000" stroke="#ff0000" stroke-width="0.8" stroke-linejoin="round"/>
<path d="M986.9 595.8 L1067.3 668.0 L1061.6 669.9 L1084.7 682.3 L1069.8 660.7 L1068.6 666.5 L987.9 594.6Z" fill="#ff0000" stroke="#ff0000" stroke-width="0.8" stroke-linejoin="round"/>
<path d="M1399.0 692.8 L1395.9 572.0 L1400.9 574.9 L1393.9 549.6 L1388.5 575.3 L1393.3 572.1 L1397.6 692.8Z" fill="#ff0000" stroke="#ff0000" stroke-width="0.8" stroke-linejoin="round"/>
<path d="M1355.9 695.9 L1380.4 711.7 L1375.2 714.3 L1400.1 722.7 L1381.9 703.8 L1381.7 709.7 L1356.9 694.3Z" fill="#ff0000" stroke="#ff0000" stroke-width="0.8" stroke-linejoin="round"/>
</g>

<!-- icons -->
<!-- share arrows -->
<path id="shr" d="M814.1 44.6 C813.9 38.4 817.2 34.2 823.1 34.1 L823.1 29.4 L832.2 36.6 L823.1 44.1 L823.1 39.3 C819 39.3 816.2 41 814.1 44.6Z" fill="#101a3a"/>
<!-- sort icon -->
<path d="M281.2 97.8 L287 91.9 L292.7 97.8Z" fill="#b4b7c0"/>
<path d="M281.2 100.4 L287 106.5 L292.7 100.4Z" fill="#676b7b"/>
<!-- red down arrows -->
<g fill="#b5161c">
<path d="M435.75 162.2 H437.05 V173.6 L440.6 172 L436.4 177.3 L432.2 172 L435.75 173.6Z"/>
<path d="M591.75 162.2 H593.05 V173.6 L596.6 172 L592.4 177.3 L588.2 172 L591.75 173.6Z"/>
</g>
<!-- dropdown triangles -->
<path d="M1078.3 35.3 L1090 35.3 L1084.15 42.8Z" fill="#1f2430"/>
<path d="M1199 35.3 L1211.2 35.3 L1205.1 42.8Z" fill="#6f7377"/>
<!-- hamburger -->
<g fill="#67647a">
<rect x="932" y="84.2" width="17.2" height="1.7"/>
<rect x="932" y="90.7" width="17.2" height="1.7"/>
<rect x="932" y="97.2" width="17.2" height="1.7"/>
</g>
<circle cx="973.6" cy="91.6" r="6.1" fill="#3fa63f"/>
</svg>


</div>
</body>
</html>
